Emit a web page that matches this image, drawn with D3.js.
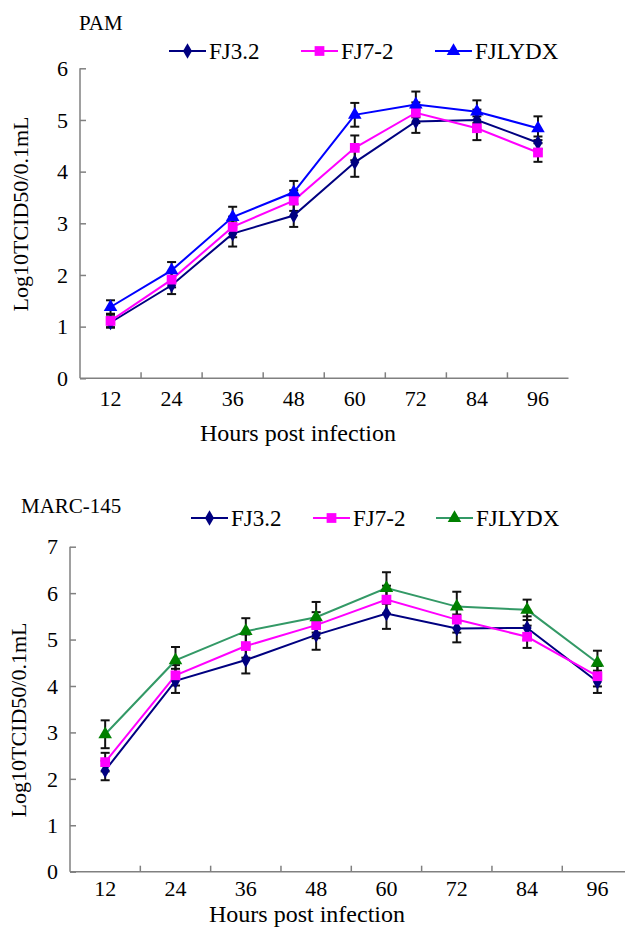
<!DOCTYPE html>
<html>
<head>
<meta charset="utf-8">
<script src="https://cdn.jsdelivr.net/npm/d3@7/dist/d3.min.js"></script>
<style>
  body { margin: 0; background: #fff; }
  svg text { font-family: "Liberation Serif", "Times New Roman", serif; fill: #000; }
</style>
</head>
<body>
<svg id="chart" width="625" height="927"></svg>
<script>
// hours post infection (shared categories)
var hours = ["12", "24", "36", "48", "60", "72", "84", "96"];
var seriesNames = ["FJ3.2", "FJ7-2", "FJLYDX"];

// PAM panel: log10 TCID50/0.1mL
var pamFJ32 = [1.08, 1.80, 2.80, 3.15, 4.18, 4.97, 5.00, 4.56];
var pamFJ72 = [1.11, 1.91, 2.93, 3.44, 4.46, 5.14, 4.84, 4.37];
var pamFJLYDX = [1.38, 2.09, 3.12, 3.60, 5.10, 5.30, 5.16, 4.84];
var pamErrFJ32 = [0.10, 0.17, 0.25, 0.22, 0.28, 0.22, 0.20, 0.12];
var pamErrFJ72 = [0.12, 0.15, 0.20, 0.20, 0.24, 0.20, 0.23, 0.18];
var pamErrFJLYDX = [0.13, 0.16, 0.20, 0.22, 0.23, 0.25, 0.22, 0.23];
var pamTicks = [0, 1, 2, 3, 4, 5, 6];

// MARC-145 panel
var marcFJ32 = [2.18, 4.11, 4.56, 5.10, 5.56, 5.24, 5.25, 4.09];
var marcFJ72 = [2.36, 4.23, 4.86, 5.31, 5.86, 5.43, 5.06, 4.21];
var marcFJLYDX = [2.96, 4.55, 5.18, 5.48, 6.11, 5.71, 5.64, 4.50];
var marcErrFJ32 = [0.21, 0.26, 0.29, 0.32, 0.33, 0.30, 0.25, 0.24];
var marcErrFJ72 = [0.20, 0.22, 0.25, 0.28, 0.30, 0.28, 0.24, 0.22];
var marcErrFJLYDX = [0.30, 0.29, 0.28, 0.33, 0.34, 0.32, 0.22, 0.26];
var marcTicks = [0, 1, 2, 3, 4, 5, 6, 7];

var svg = d3.select("#chart");
var serif = "'Liberation Serif', 'Times New Roman', serif";

function drawPanel(p) {
  var x = d3.scaleBand().domain(hours).range([p.left, p.right]);
  var y = d3.scaleLinear().domain([0, p.ymax]).range([p.bottom, p.top]);

  var g = svg.append("g").attr("font-family", serif);

  // title
  g.append("text")
    .attr("x", p.titleX).attr("y", p.titleY)
    .style("font-size", "21px")
    .text(p.title);

  // y axis, ticks pointing inward
  var yAxis = g.append("g")
    .attr("transform", "translate(" + p.left + ",0)")
    .call(d3.axisRight(y).tickValues(p.ticks).tickSize(6).tickFormat(""));
  yAxis.select(".domain").remove();
  yAxis.selectAll("line").attr("stroke", "#808080").attr("stroke-width", 1.5);
  g.append("line")
    .attr("x1", p.left).attr("x2", p.left)
    .attr("y1", p.top).attr("y2", p.bottom)
    .attr("stroke", "#808080").attr("stroke-width", 1.5);

  g.selectAll(".ytl")
    .data(p.ticks)
    .enter().append("text")
      .attr("x", p.left - 12)
      .attr("y", function(d) { return y(d); })
      .attr("dy", "0.35em")
      .attr("text-anchor", "end")
      .style("font-size", "22px")
      .text(function(d) { return d; });

  // x axis: line + boundary ticks pointing up
  g.append("line")
    .attr("x1", p.left).attr("x2", p.right)
    .attr("y1", p.bottom).attr("y2", p.bottom)
    .attr("stroke", "#808080").attr("stroke-width", 1.5);
  g.selectAll(".xtick")
    .data(hours.slice(1))
    .enter().append("line")
      .attr("x1", function(d) { return x(d); })
      .attr("x2", function(d) { return x(d); })
      .attr("y1", p.bottom).attr("y2", p.bottom - 6)
      .attr("stroke", "#808080").attr("stroke-width", 1.5);
  g.selectAll(".xtl")
    .data(hours)
    .enter().append("text")
      .attr("x", function(d) { return x(d) + x.bandwidth() / 2; })
      .attr("y", p.xLabelY)
      .attr("dy", "0.35em")
      .attr("text-anchor", "middle")
      .style("font-size", "22px")
      .text(function(d) { return d; });

  g.append("text")
    .attr("x", p.xTitleX).attr("y", p.xTitleY)
    .attr("dy", "0.35em")
    .attr("text-anchor", "middle")
    .style("font-size", "24px")
    .text("Hours post infection");

  g.append("text")
    .attr("transform", "translate(" + p.yTitleX + "," + p.yTitleY + ") rotate(-90)")
    .attr("dy", "0.35em")
    .attr("text-anchor", "middle")
    .style("font-size", "22px")
    .text("Log10TCID50/0.1mL");

  var cx = function(d, i) { return x(hours[i]) + x.bandwidth() / 2; };
  var line = d3.line()
    .x(function(d, i) { return x(hours[i]) + x.bandwidth() / 2; })
    .y(function(d) { return y(d); });

  // error bars
  p.series.forEach(function(s) {
    var eb = g.append("g");
    s.values.forEach(function(v, i) {
      var xx = cx(v, i), e = s.err[i];
      eb.append("line")
        .attr("x1", xx).attr("x2", xx)
        .attr("y1", y(v - e)).attr("y2", y(v + e))
        .attr("stroke", "#111").attr("stroke-width", 2);
      [v - e, v + e].forEach(function(c) {
        eb.append("line")
          .attr("x1", xx - 4.5).attr("x2", xx + 4.5)
          .attr("y1", y(c)).attr("y2", y(c))
          .attr("stroke", "#111").attr("stroke-width", 2);
      });
    });
  });

  // lines
  p.series.forEach(function(s) {
    g.append("path")
      .datum(s.values)
      .attr("fill", "none")
      .attr("stroke", s.line)
      .attr("stroke-width", 2)
      .attr("d", line);
  });

  // markers
  p.series.forEach(function(s) {
    g.selectAll(null)
      .data(s.values)
      .enter().append("path")
        .attr("transform", function(d, i) { return "translate(" + cx(d, i) + "," + y(d) + ")"; })
        .attr("d", d3.symbol().type(s.shape).size(s.size))
        .attr("fill", s.fill);
  });

  // legend
  p.series.forEach(function(s, i) {
    var lx = p.legendX[i];
    g.append("line")
      .attr("x1", lx).attr("x2", lx + 37)
      .attr("y1", p.legendY).attr("y2", p.legendY)
      .attr("stroke", s.line).attr("stroke-width", 2);
    g.append("path")
      .attr("transform", "translate(" + (lx + 18.5) + "," + p.legendY + ")")
      .attr("d", d3.symbol().type(s.shape).size(s.size))
      .attr("fill", s.fill);
    g.append("text")
      .attr("x", lx + 40).attr("y", p.legendY)
      .attr("dy", "0.35em")
      .style("font-size", "23px")
      .text(seriesNames[i]);
  });
}

var diamond = d3.symbolDiamond, square = d3.symbolSquare, tri = d3.symbolTriangle;

drawPanel({
  title: "PAM", titleX: 79, titleY: 30,
  left: 80, right: 568.5, top: 68.3, bottom: 378.3, ymax: 6, ticks: pamTicks,
  xLabelY: 398.5, xTitleX: 298, xTitleY: 433, yTitleX: 20, yTitleY: 214,
  legendX: [169, 301, 435], legendY: 51,
  series: [
    { values: pamFJ32, err: pamErrFJ32, line: "#000080", fill: "#000080", shape: diamond, size: 70 },
    { values: pamFJ72, err: pamErrFJ72, line: "#ff00ff", fill: "#ff00ff", shape: square, size: 95 },
    { values: pamFJLYDX, err: pamErrFJLYDX, line: "#0000ff", fill: "#0000ff", shape: tri, size: 80 }
  ]
});

drawPanel({
  title: "MARC-145", titleX: 21, titleY: 512.5,
  left: 70, right: 632.6, top: 546.7, bottom: 871.7, ymax: 7, ticks: marcTicks,
  xLabelY: 888, xTitleX: 307, xTitleY: 914, yTitleX: 18, yTitleY: 720,
  legendX: [191, 313, 436], legendY: 518,
  series: [
    { values: marcFJ32, err: marcErrFJ32, line: "#000080", fill: "#000080", shape: diamond, size: 70 },
    { values: marcFJ72, err: marcErrFJ72, line: "#ff00ff", fill: "#ff00ff", shape: square, size: 95 },
    { values: marcFJLYDX, err: marcErrFJLYDX, line: "#339966", fill: "#008000", shape: tri, size: 80 }
  ]
});
</script>
</body>
</html>
